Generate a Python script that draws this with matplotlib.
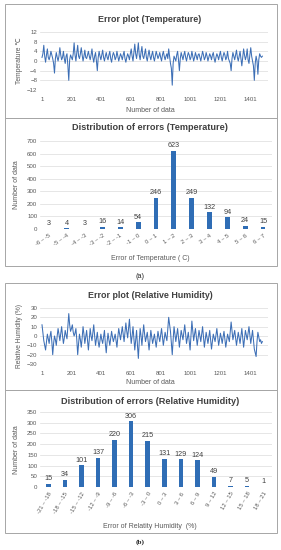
import matplotlib
matplotlib.use("Agg")
import matplotlib.pyplot as plt
from matplotlib.patches import Rectangle
import numpy as np

plt.rcParams['font.family'] = ['Liberation Sans', 'DejaVu Sans']

# ---------------- data ----------------
step = 6  # sampling interval (number of data) of the read-off error series
temp_err = [1.5, 3.0, 6.5, 2.0, -0.5, 2.5, 5.0, 1.5, 0.5, 2.0, 4.0, 2.5, 1.0, -1.0, -5.0, 1.0,
            3.5, 1.5, 0.0, 2.0, 5.5, 2.5, 0.5, 1.5, 4.0, 1.0, -1.0, 2.0, 3.0, -2.0, -8.0, 0.5,
            2.5, 1.5, 0.5, 3.0, 7.5, 2.5, 0.0, 3.5, 6.5, 2.0, 1.0, 3.0, 5.5, 2.5, 0.0, 2.0,
            4.5, 1.5, 1.0, 2.5, 4.0, 2.0, 0.5, 2.5, 5.0, 1.5, -0.5, 2.0, 3.5, 0.0, -4.0, 1.5,
            4.0, 2.0, 0.5, 2.5, 4.5, 1.5, 0.0, 2.0, 3.5, 1.5, 0.5, 2.5, 4.0, 1.0, -0.5, 2.0,
            3.5, 2.5, 0.5, 1.5, 4.0, 2.0, 0.0, 1.5, 3.0, 2.0, 0.5, 2.5, 4.0, 1.0, -0.5, 1.5,
            3.0, 2.0, 0.5, 3.0, 5.0, 2.0, 0.0, 3.5, 7.0, 3.0, 1.0, 4.0, 7.5, 2.5, 0.5, 3.5,
            6.0, 2.0, 1.0, 3.0, 5.0, 1.5, 0.0, 2.5, 4.5, 2.0, 0.5, 2.5, 4.0, 1.5, 0.0, 2.0,
            4.0, 2.5, 1.0, 2.0, 3.5, 1.5, 0.0, 2.5, 4.0, 2.0, 0.5, 2.0, 3.0, 1.0, 5.0, 2.0,
            -1.0, -3.0, -10.0, -1.0, 2.0, 1.0, 0.0, 2.5, 4.0, 0.5, -4.0, 1.0, 3.5, 2.0, 0.5, 2.5,
            4.0, 1.5, 0.0, 2.0, 3.5, 2.5, 0.5, 1.5, 4.0, 2.0, 0.0, 1.5, 3.5, 2.0, 0.5, 2.5,
            3.0, 1.5, 0.0, 2.0, 4.0, 2.5, 0.5, 1.5, 3.5, 2.0, 0.0, 1.5, 3.0, 2.0, 0.5, 2.5,
            3.5, 1.0, -0.5, 1.5, 3.0, 2.0, 0.5, 2.5, 4.0, 1.5, 0.0, 2.0, 3.5, 2.5, 0.5, 1.5,
            4.0, 1.0, 0.0, -1.0, -4.0, 1.0, 3.5, 2.0, 0.5, 2.5, 4.5, 1.5, 0.0, 2.0, 4.0, 1.0,
            -2.0, 1.5, 5.0, 2.5, 0.5, 2.0, 5.0, 0.5, -1.0, 2.5, 5.5, 2.0, 0.0, -2.0, -8.0, -1.0,
            2.0, 0.0, -5.5, 0.5, 3.0, 2.0, 1.5, 2.0]
rh_err = [12, 4, -5, -10, -15, -6, 2, -3, -8, 0, 5, -6, -20, -8, 0, -4,
          -10, 0, 8, 2, -5, 3, 10, 0, -8, -2, 6, 1, -3, 10, 24, 12,
          5, 8, 12, 4, 0, 3, 8, -4, -20, -8, 2, -4, -12, -2, 10, 2,
          -8, -1, 6, -5, -15, -3, 8, 0, -5, 4, 12, 0, -10, -3, 4, -6,
          -12, -5, 2, -4, -8, -1, 6, -8, -18, -6, 3, -4, -10, -2, 5, -1,
          -6, -2, 2, -5, -12, -1, 8, 2, -4, 3, 10, 2, -6, 4, 14, 5,
          -2, 8, 18, 4, -8, 0, 10, -2, -15, -4, 6, -10, -24, -6, 8, 0,
          -10, 2, 12, 2, -6, -1, 4, -6, -15, -4, 6, -1, -8, -3, 2, -5,
          -12, -3, 5, -1, -6, 1, 8, -1, -10, -3, 4, -1, -5, 8, 20, 12,
          5, -8, -20, -4, 10, 2, -6, 1, 8, -2, -12, -3, 6, 1, -4, 4,
          12, 2, -8, -2, 4, -6, -15, 0, 16, 5, -5, 2, 8, -1, -10, -2,
          6, 0, -6, 2, 10, -1, -12, -4, 4, -2, -8, -1, 6, -4, -14, -6,
          2, -2, -6, 1, 8, -1, -10, -4, 3, -2, -8, -1, 5, -4, -12, -5,
          2, -2, -6, 4, 15, 5, -4, 1, 6, -2, -10, -3, 4, -2, -8, 0,
          8, -2, -12, -3, 6, 1, -4, 3, 10, 1, -8, -1, 6, -4, -14, -18,
          -22, -6, 4, -1, -6, -4, -8, -6]

temp_cats = ["-6 ~ -5", "-5 ~ -4", "-4 ~ -3", "-3 ~ -2", "-2 ~ -1", "-1 ~ 0", "0 ~ 1",
             "1 ~ 2", "2 ~ 3", "3 ~ 4", "4 ~ 5", "5 ~ 6", "6 ~ 7"]
temp_counts = [3, 4, 3, 16, 14, 54, 246, 623, 249, 132, 94, 24, 15]

rh_cats = ["-21 ~ -18", "-18 ~ -15", "-15 ~ -12", "-12 ~ -9", "-9 ~ -6", "-6 ~ -3", "-3 ~ 0",
           "0 ~ 3", "3 ~ 6", "6 ~ 9", "9 ~ 12", "12 ~ 15", "15 ~ 18", "18 ~ 21"]
rh_counts = [15, 34, 101, 137, 220, 306, 215, 131, 129, 124, 49, 7, 5, 1]

xticks_series = [1, 201, 401, 601, 801, 1001, 1201, 1401]
temp_yticks = [-12, -8, -4, 0, 4, 8, 12]
rh_yticks = [-30, -20, -10, 0, 10, 20, 30]

# ---------------- style ----------------
W, H = 281, 550
LINE = '#3d6fb6'
BAR = '#2f6db5'
TXT = '#595959'
TTL = '#404040'
GRID = '#dcdcdc'
BOX = '#a6a6a6'

fig = plt.figure(figsize=(W / 100, H / 100), dpi=100)


def ax_px(x0, y0, x1, y1):
    return fig.add_axes([x0 / W, 1 - y1 / H, (x1 - x0) / W, (y1 - y0) / H])


def box(x0, y0, x1, y1):
    fig.add_artist(Rectangle((x0 / W, 1 - y1 / H), (x1 - x0) / W, (y1 - y0) / H,
                             transform=fig.transFigure, fill=False, ec=BOX, lw=0.7))


def ftext(x, y, s, **kw):
    fig.text(x / W, 1 - y / H, s, ha='center', va='center', **kw)


def style(ax):
    for s in ax.spines.values():
        s.set_visible(False)
    ax.tick_params(length=0, labelsize=4.4, labelcolor=TXT, pad=2)
    ax.yaxis.grid(True, color=GRID, lw=0.5)
    ax.set_axisbelow(True)


def series_panel(y_top, y_bot, vals, yticks, ylabel, title, ty, xly):
    ax = ax_px(40, y_top, 268, y_bot)
    style(ax)
    x = 1 + step * np.arange(len(vals))
    ax.plot(x, vals, color=LINE, lw=0.75)
    ax.set_xlim(-12.5, 1521)
    ax.set_ylim(yticks[0], yticks[-1])
    ax.set_yticks(yticks)
    ax.set_xticks(xticks_series)
    ax.tick_params(axis='x', pad=5)
    ax.set_ylabel(ylabel, fontsize=4.8, color=TXT, labelpad=3)
    ftext(150, ty, title, fontsize=6.4, fontweight='bold', color=TTL)
    ftext(150, xly, "Number of data", fontsize=5.0, color=TXT)
    return ax


def bar_panel(y_top, y_bot, cats, counts, ymax, ystep, rot, title, ty, xlabel, xly):
    ax = ax_px(40, y_top, 272, y_bot)
    style(ax)
    pos = np.arange(len(cats))
    ax.bar(pos, counts, width=0.27, color=BAR)
    ax.set_xlim(-0.5, len(cats) - 0.5)
    ax.set_ylim(0, ymax)
    ax.set_yticks(np.arange(0, ymax + 1, ystep))
    ax.set_xticks(pos)
    ax.set_xticklabels(cats, rotation=rot, ha='right', rotation_mode='anchor', fontsize=4.2)
    ax.tick_params(axis='x', pad=3)
    ax.axhline(0, color='#d0d0d0', lw=0.6)
    for p, c in zip(pos, counts):
        ax.annotate(str(c), (p, c), xytext=(0, 1.2), textcoords='offset points',
                    ha='center', va='bottom', fontsize=5.2, color=TTL)
    ax.set_ylabel("Number of data", fontsize=5.0, color=TXT, labelpad=5)
    ftext(150, ty, title, fontsize=6.6, fontweight='bold', color=TTL)
    ftext(150, xly, xlabel, fontsize=5.0, color=TXT)
    return ax


# panel boxes
box(5, 4, 277, 118)
box(5, 118, 277, 266)
box(5, 283, 277, 390)
box(5, 390, 277, 533)

series_panel(32, 90, temp_err, temp_yticks, "Temperature \u2103",
             "Error plot (Temperature)", 19, 110)
bar_panel(141, 229, temp_cats, temp_counts, 700, 100, 35,
          "Distribution of errors (Temperature)", 128, "Error of Temperature ( C)", 259)
ftext(140, 276, "(a)", fontsize=5.2, color='#222222')

series_panel(308, 364, rh_err, rh_yticks, "Relative Humidity (%)",
             "Error plot (Relative Humidity)", 296, 382)
bar_panel(412, 487, rh_cats, rh_counts, 350, 50, 60,
          "Distribution of errors (Relative Humidity)", 401, "Error of Relatity Humidity  (%)", 526)
ftext(140, 542, "(b)", fontsize=5.2, fontweight='bold', family='Liberation Serif', color='#222222')

fig.savefig("out.png", dpi=100)
